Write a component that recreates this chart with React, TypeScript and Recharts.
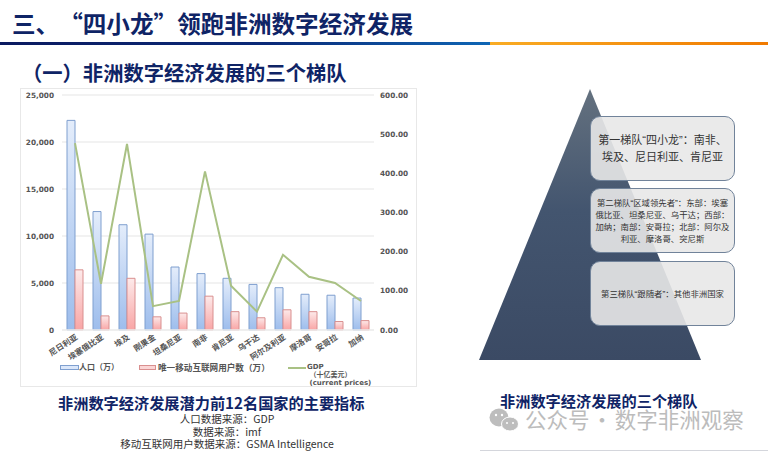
import { Bar, CartesianGrid, ComposedChart, Line, XAxis, YAxis } from "recharts";
import type { CSSProperties } from "react";

const countries = ["尼日利亚", "埃塞俄比亚", "埃及", "刚果金", "坦桑尼亚", "南非", "肯尼亚", "乌干达", "阿尔及利亚", "摩洛哥", "安哥拉", "加纳"];
const population = [22300, 12600, 11200, 10200, 6700, 6000, 5500, 4850, 4500, 3800, 3700, 3400];
const mobileUsers = [6400, 1500, 5500, 1400, 1800, 3600, 1950, 1300, 2150, 1950, 900, 1000];
const gdp = [477, 118, 475, 61, 74, 405, 113, 47, 192, 136, 120, 74];

const leftTicks = [0, 5000, 10000, 15000, 20000, 25000];
const rightTicks = [0, 100, 200, 300, 400, 500, 600];

const sources = ["人口数据来源：GDP", "数据来源：imf", "移动互联网用户数据来源：GSMA Intelligence"];

const data = countries.map((name, i) => ({
  name,
  population: population[i],
  mobileUsers: mobileUsers[i],
  gdp: gdp[i],
}));

const CJK = '"Noto Sans CJK SC", "Noto Sans", sans-serif';
const NAVY = "#0f2466";
const AXIS_TEXT = { fontSize: 7.3, fontWeight: 700, fill: "#555", fontFamily: '"DejaVu Sans", sans-serif' };

function at(left: number, top: number, extra: CSSProperties = {}): CSSProperties {
  return { position: "absolute", left, top, fontFamily: CJK, whiteSpace: "nowrap", ...extra };
}

function Tier({ top, height, size, lines }: { top: number; height: number; size: number; lines: string[] }) {
  return (
    <div
      style={at(590, top, {
        width: 145,
        height,
        boxSizing: "border-box",
        border: "1.5px solid #71839a",
        borderRadius: 10,
        background: "rgba(232,232,232,0.9)",
        display: "flex",
        flexDirection: "column",
        justifyContent: "center",
        alignItems: "center",
        color: "#333",
        fontFamily: '"Liberation Sans", ' + CJK,
        fontSize: size,
        lineHeight: `${size >= 10 ? 17 : 12}px`,
      })}
    >
      {lines.map((line) => (
        <div key={line}>{line}</div>
      ))}
    </div>
  );
}

export default function App() {
  return (
    <div style={{ position: "absolute", left: 0, top: 0, width: 768, height: 451, overflow: "hidden", background: "#fff" }}>
      <div style={at(12, 6, { fontSize: 23.6, fontWeight: 700, color: NAVY, lineHeight: "34px", textSpacingTrim: "space-all" } as CSSProperties)}>
        三、“四小龙”领跑非洲数字经济发展
      </div>
      <div style={{ position: "absolute", left: 0, top: 42, width: 490, height: 3, background: "linear-gradient(90deg,#0a1a60,#0a2a78 55%,#0f66b5)" }} />
      <div style={{ position: "absolute", left: 490, top: 42, width: 278, height: 3, background: "linear-gradient(90deg,#f9ac24,#f07a00)" }} />
      <div style={at(22, 57, { fontSize: 20.3, fontWeight: 700, color: NAVY, lineHeight: "30px" })}>（一）非洲数字经济发展的三个梯队</div>

      <div style={{ position: "absolute", left: 20, top: 88, width: 397, height: 299, boxSizing: "border-box", border: "1.5px solid #e8e8e8" }} />
      <div style={{ position: "absolute", left: 20, top: 88 }}>
        <ComposedChart width={397} height={299} data={data} margin={{ top: 7, right: 0, bottom: 0, left: 0 }} barGap={0} barSize={8}>
          <defs>
            <linearGradient id="bluePop" x1="0" y1="0" x2="0" y2="1">
              <stop offset="0%" stopColor="#e4edfb" />
              <stop offset="100%" stopColor="#9dbdec" />
            </linearGradient>
            <linearGradient id="redMob" x1="0" y1="0" x2="0" y2="1">
              <stop offset="0%" stopColor="#fdeaea" />
              <stop offset="100%" stopColor="#f9a5a5" />
            </linearGradient>
          </defs>
          <CartesianGrid yAxisId="left" vertical={false} stroke="#eeeeee" strokeWidth={1.5} />
          <XAxis
            dataKey="name"
            interval={0}
            height={57}
            angle={-33}
            textAnchor="end"
            tickLine={false}
            tickSize={0}
            tickMargin={4}
            axisLine={{ stroke: "#eeeeee", strokeWidth: 1.5 }}
            tick={{ fontSize: 8, fontWeight: 700, fill: "#555", fontFamily: CJK }}
          />
          <YAxis
            yAxisId="left"
            width={42}
            domain={[0, 25000]}
            ticks={leftTicks}
            tickFormatter={(v: number) => v.toLocaleString("en-US")}
            axisLine={false}
            tickLine={false}
            tick={AXIS_TEXT}
          />
          <YAxis
            yAxisId="right"
            orientation="right"
            width={43}
            domain={[0, 600]}
            ticks={rightTicks}
            tickFormatter={(v: number) => v.toFixed(2)}
            axisLine={false}
            tickLine={false}
            tickMargin={0}
            tick={AXIS_TEXT}
          />
          <Bar yAxisId="left" dataKey="population" fill="url(#bluePop)" stroke="#7f9fcf" strokeWidth={1} isAnimationActive={false} />
          <Bar yAxisId="left" dataKey="mobileUsers" fill="url(#redMob)" stroke="#d98f8f" strokeWidth={1} isAnimationActive={false} />
          <Line yAxisId="right" dataKey="gdp" stroke="#a9c184" strokeWidth={2} dot={false} isAnimationActive={false} />
        </ComposedChart>
      </div>

      <div style={{ position: "absolute", left: 60, top: 365, width: 17, height: 3, border: "1px solid #7f9fcf", background: "#dbe7fa" }} />
      <div style={at(79, 361, { fontSize: 8, fontWeight: 700, color: "#555", lineHeight: "12px" })}>人口（万）</div>
      <div style={{ position: "absolute", left: 139, top: 365, width: 15, height: 3, border: "1px solid #d98f8f", background: "#fbd5d5" }} />
      <div style={at(158, 361, { fontSize: 8.6, fontWeight: 700, color: "#555", lineHeight: "12px" })}>唯一移动互联网用户数（万）</div>
      <div style={{ position: "absolute", left: 288, top: 367, width: 18, height: 2, background: "#a9c184" }} />
      <div style={at(307, 363, { fontSize: 7, fontWeight: 700, color: "#555", lineHeight: "8px", fontFamily: '"DejaVu Sans", ' + CJK })}>
        GDP
        <br />
        &nbsp;（十亿美元）
        <br />
        &nbsp;(current prices)
      </div>

      <div style={at(58, 394, { fontSize: 15.2, fontWeight: 700, color: NAVY, lineHeight: "16px" })}>非洲数字经济发展潜力前12名国家的主要指标</div>
      {sources.map((line, i) => (
        <div key={line} style={at(77, 413 + i * 12.5, { width: 300, textAlign: "center", fontSize: 10.5, color: "#333", lineHeight: "12px" })}>
          {line}
        </div>
      ))}

      <svg width={768} height={451} style={{ position: "absolute", left: 0, top: 0 }}>
        <defs>
          <linearGradient id="pyramid" x1="0" y1="0" x2="0" y2="1">
            <stop offset="0%" stopColor="#64717f" />
            <stop offset="45%" stopColor="#43556f" />
            <stop offset="100%" stopColor="#3b4a64" />
          </linearGradient>
        </defs>
        <polygon points="590,89 701,360 479,360" fill="url(#pyramid)" />
        <ellipse cx="499" cy="417.5" rx="9.5" ry="9" fill="#bdbdbd" />
        <ellipse cx="510" cy="424" rx="8.5" ry="7" fill="#bdbdbd" stroke="#fff" strokeWidth="1" />
        <circle cx="496" cy="415" r="1.2" fill="#fff" />
        <circle cx="502" cy="415" r="1.2" fill="#fff" />
        <circle cx="507" cy="423" r="1" fill="#fff" />
        <circle cx="513" cy="423" r="1" fill="#fff" />
        <line x1="480" y1="450.5" x2="768" y2="450.5" stroke="#d4d6dc" />
      </svg>

      <Tier top={116} height={65} size={11} lines={["第一梯队“四小龙”：南非、", "埃及、尼日利亚、肯尼亚"]} />
      <Tier top={188} height={65} size={8.4} lines={["第二梯队“区域领先者”：东部：埃塞", "俄比亚、坦桑尼亚、乌干达；西部：", "加纳；南部：安哥拉；北部：阿尔及", "利亚、摩洛哥、突尼斯"]} />
      <Tier top={261} height={65} size={8.4} lines={["第三梯队“跟随者”：其他非洲国家"]} />

      <div style={at(500, 392, { fontSize: 15.2, fontWeight: 700, color: NAVY, lineHeight: "16px" })}>非洲数字经济发展的三个梯队</div>
      <div style={at(525, 408, { fontSize: 21.5, color: "#bcbcbc", lineHeight: "22px", wordSpacing: -3 })}>公众号 · 数字非洲观察</div>
    </div>
  );
}
